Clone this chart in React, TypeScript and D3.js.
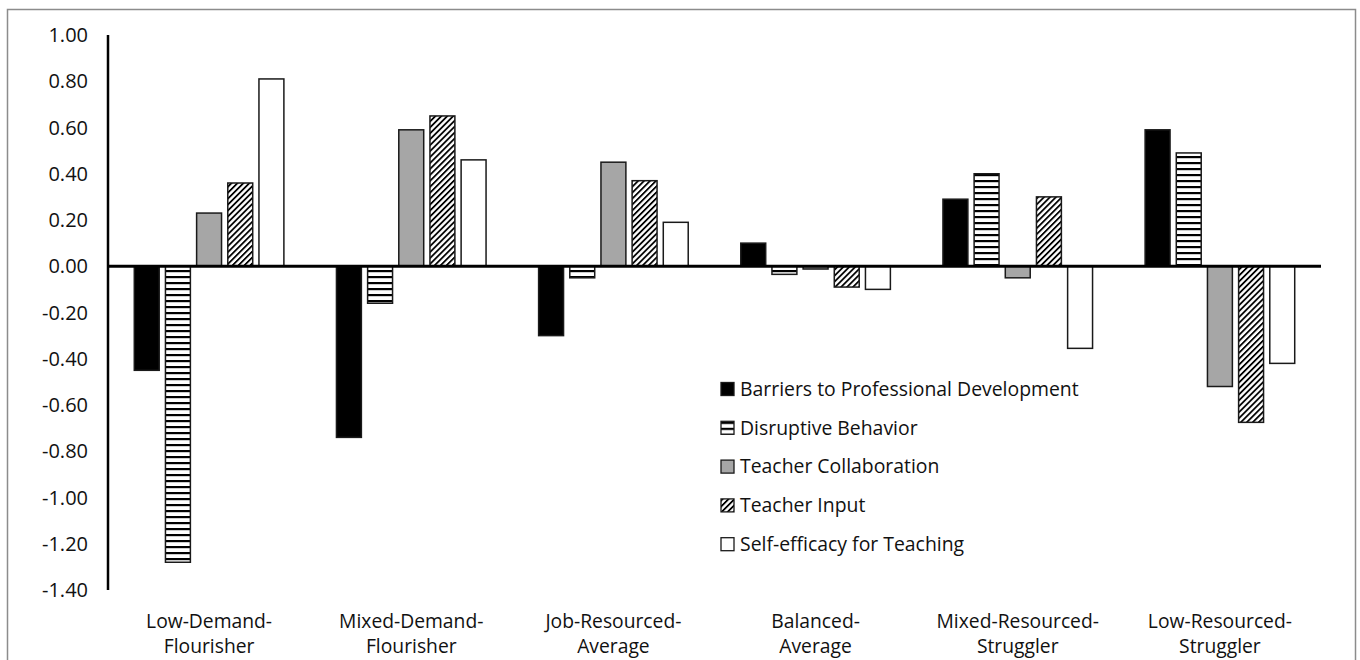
import React, { useRef, useEffect } from 'react';
import * as d3 from 'd3';

// profiles along the x axis (two-line labels)
const categories = [
  'Low-Demand-|Flourisher',
  'Mixed-Demand-|Flourisher',
  'Job-Resourced-|Average',
  'Balanced-|Average',
  'Mixed-Resourced-|Struggler',
  'Low-Resourced-|Struggler',
];

const seriesNames = [
  'Barriers to Professional Development',
  'Disruptive Behavior',
  'Teacher Collaboration',
  'Teacher Input',
  'Self-efficacy for Teaching',
];

// one array per series, in category order
const barriers = [-0.45, -0.74, -0.30, 0.10, 0.29, 0.59];
const disruptive = [-1.28, -0.16, -0.05, -0.035, 0.40, 0.49];
const collaboration = [0.23, 0.59, 0.45, -0.012, -0.05, -0.52];
const teacherInput = [0.36, 0.65, 0.37, -0.09, 0.30, -0.675];
const selfEfficacy = [0.81, 0.46, 0.19, -0.10, -0.355, -0.42];

const seriesValues = [barriers, disruptive, collaboration, teacherInput, selfEfficacy];

const yTicks = [1.0, 0.8, 0.6, 0.4, 0.2, 0, -0.2, -0.4, -0.6, -0.8, -1.0, -1.2, -1.4];

const W = 1360;
const H = 660;
const FONT = '"Open Sans", "Noto Sans", sans-serif';

const fills = ['#000000', 'url(#hstripe)', '#a6a6a6', 'url(#diag)', '#ffffff'];

// plain hyphen for negatives, as in the original
const fmt = (v: number) => d3.format('.2f')(v).replace('\u2212', '-');

const App = () => {
  const svgRef = useRef<SVGSVGElement | null>(null);

  useEffect(() => {
    if (!svgRef.current) return;
    const svg = d3.select(svgRef.current);
    svg.selectAll('*').remove();

    // patterns
    const defs = svg.append('defs');
    const hs = defs.append('pattern')
      .attr('id', 'hstripe')
      .attr('patternUnits', 'userSpaceOnUse')
      .attr('width', 6)
      .attr('height', 6);
    hs.append('rect').attr('width', 6).attr('height', 6).attr('fill', '#fff');
    hs.append('rect').attr('y', 0).attr('width', 6).attr('height', 2.2).attr('fill', '#000');

    const dg = defs.append('pattern')
      .attr('id', 'diag')
      .attr('patternUnits', 'userSpaceOnUse')
      .attr('width', 4.2)
      .attr('height', 4.2)
      .attr('patternTransform', 'rotate(45)');
    dg.append('rect').attr('width', 4.2).attr('height', 4.2).attr('fill', '#fff');
    dg.append('rect').attr('x', 0).attr('width', 1.8).attr('height', 4.2).attr('fill', '#000');

    // outer frame
    svg.append('rect')
      .attr('x', 7.5)
      .attr('y', 9.5)
      .attr('width', 1348)
      .attr('height', 700)
      .attr('fill', 'none')
      .attr('stroke', '#8c8c8c')
      .attr('stroke-width', 1.5);

    const x0 = d3.scaleBand<string>()
      .domain(categories)
      .range([108, 1321])
      .paddingInner(0.26)
      .paddingOuter(0.13);

    const x1 = d3.scaleBand<string>()
      .domain(seriesNames)
      .range([0, x0.bandwidth()])
      .paddingInner(0.2)
      .paddingOuter(0);

    const y = d3.scaleLinear().domain([-1.4, 1.0]).range([590, 35]);

    // y tick labels
    svg.append('g')
      .selectAll('text')
      .data(yTicks)
      .enter()
      .append('text')
      .attr('x', 88)
      .attr('y', d => y(d))
      .attr('dy', '0.35em')
      .attr('text-anchor', 'end')
      .attr('font-family', FONT)
      .attr('font-size', 20)
      .attr('fill', '#111')
      .text(d => fmt(d));

    // bars
    const groups = svg.append('g')
      .selectAll('g')
      .data(categories)
      .enter()
      .append('g')
      .attr('transform', d => `translate(${x0(d)},0)`);

    groups.selectAll('rect')
      .data((c, ci) => seriesNames.map((s, si) => ({ s, si, v: seriesValues[si][ci] })))
      .enter()
      .append('rect')
      .attr('x', d => x1(d.s) as number)
      .attr('y', d => y(Math.max(0, d.v)))
      .attr('width', x1.bandwidth())
      .attr('height', d => Math.abs(y(d.v) - y(0)))
      .attr('fill', d => fills[d.si])
      .attr('stroke', '#1a1a1a')
      .attr('stroke-width', 1.5);

    // axes lines
    svg.append('line')
      .attr('x1', 108).attr('x2', 108)
      .attr('y1', y(1.0)).attr('y2', y(-1.4))
      .attr('stroke', '#000').attr('stroke-width', 2.5);

    svg.append('line')
      .attr('x1', 107).attr('x2', 1321)
      .attr('y1', y(0)).attr('y2', y(0))
      .attr('stroke', '#000').attr('stroke-width', 3);

    // category labels
    const labels = svg.append('g')
      .selectAll('text')
      .data(categories)
      .enter()
      .append('text')
      .attr('text-anchor', 'middle')
      .attr('font-family', FONT)
      .attr('font-size', 19.3)
      .attr('fill', '#111');
    labels.each(function (d) {
      const t = d3.select(this);
      const cx = (x0(d) as number) + x0.bandwidth() / 2;
      d.split('|').forEach((line, i) => {
        t.append('tspan')
          .attr('x', cx)
          .attr('y', 628 + i * 25)
          .text(line);
      });
    });

    // legend
    const legend = svg.append('g').attr('transform', 'translate(721, 389)');
    const items = legend.selectAll('g')
      .data(seriesNames)
      .enter()
      .append('g')
      .attr('transform', (d, i) => `translate(0, ${i * 38.8})`);

    items.append('rect')
      .attr('x', 0)
      .attr('y', -6.5)
      .attr('width', 13)
      .attr('height', 13)
      .attr('fill', (d, i) => fills[i])
      .attr('stroke', '#1a1a1a')
      .attr('stroke-width', 1.3);

    items.append('text')
      .attr('x', 19)
      .attr('y', 0)
      .attr('dy', '0.35em')
      .attr('font-family', FONT)
      .attr('font-size', 19.4)
      .attr('fill', '#111')
      .text(d => d);
  }, []);

  return (
    <svg
      ref={svgRef}
      width={W}
      height={H}
      style={{ position: 'absolute', left: 0, top: 0, background: '#fff' }}
    />
  );
};

export default App;
